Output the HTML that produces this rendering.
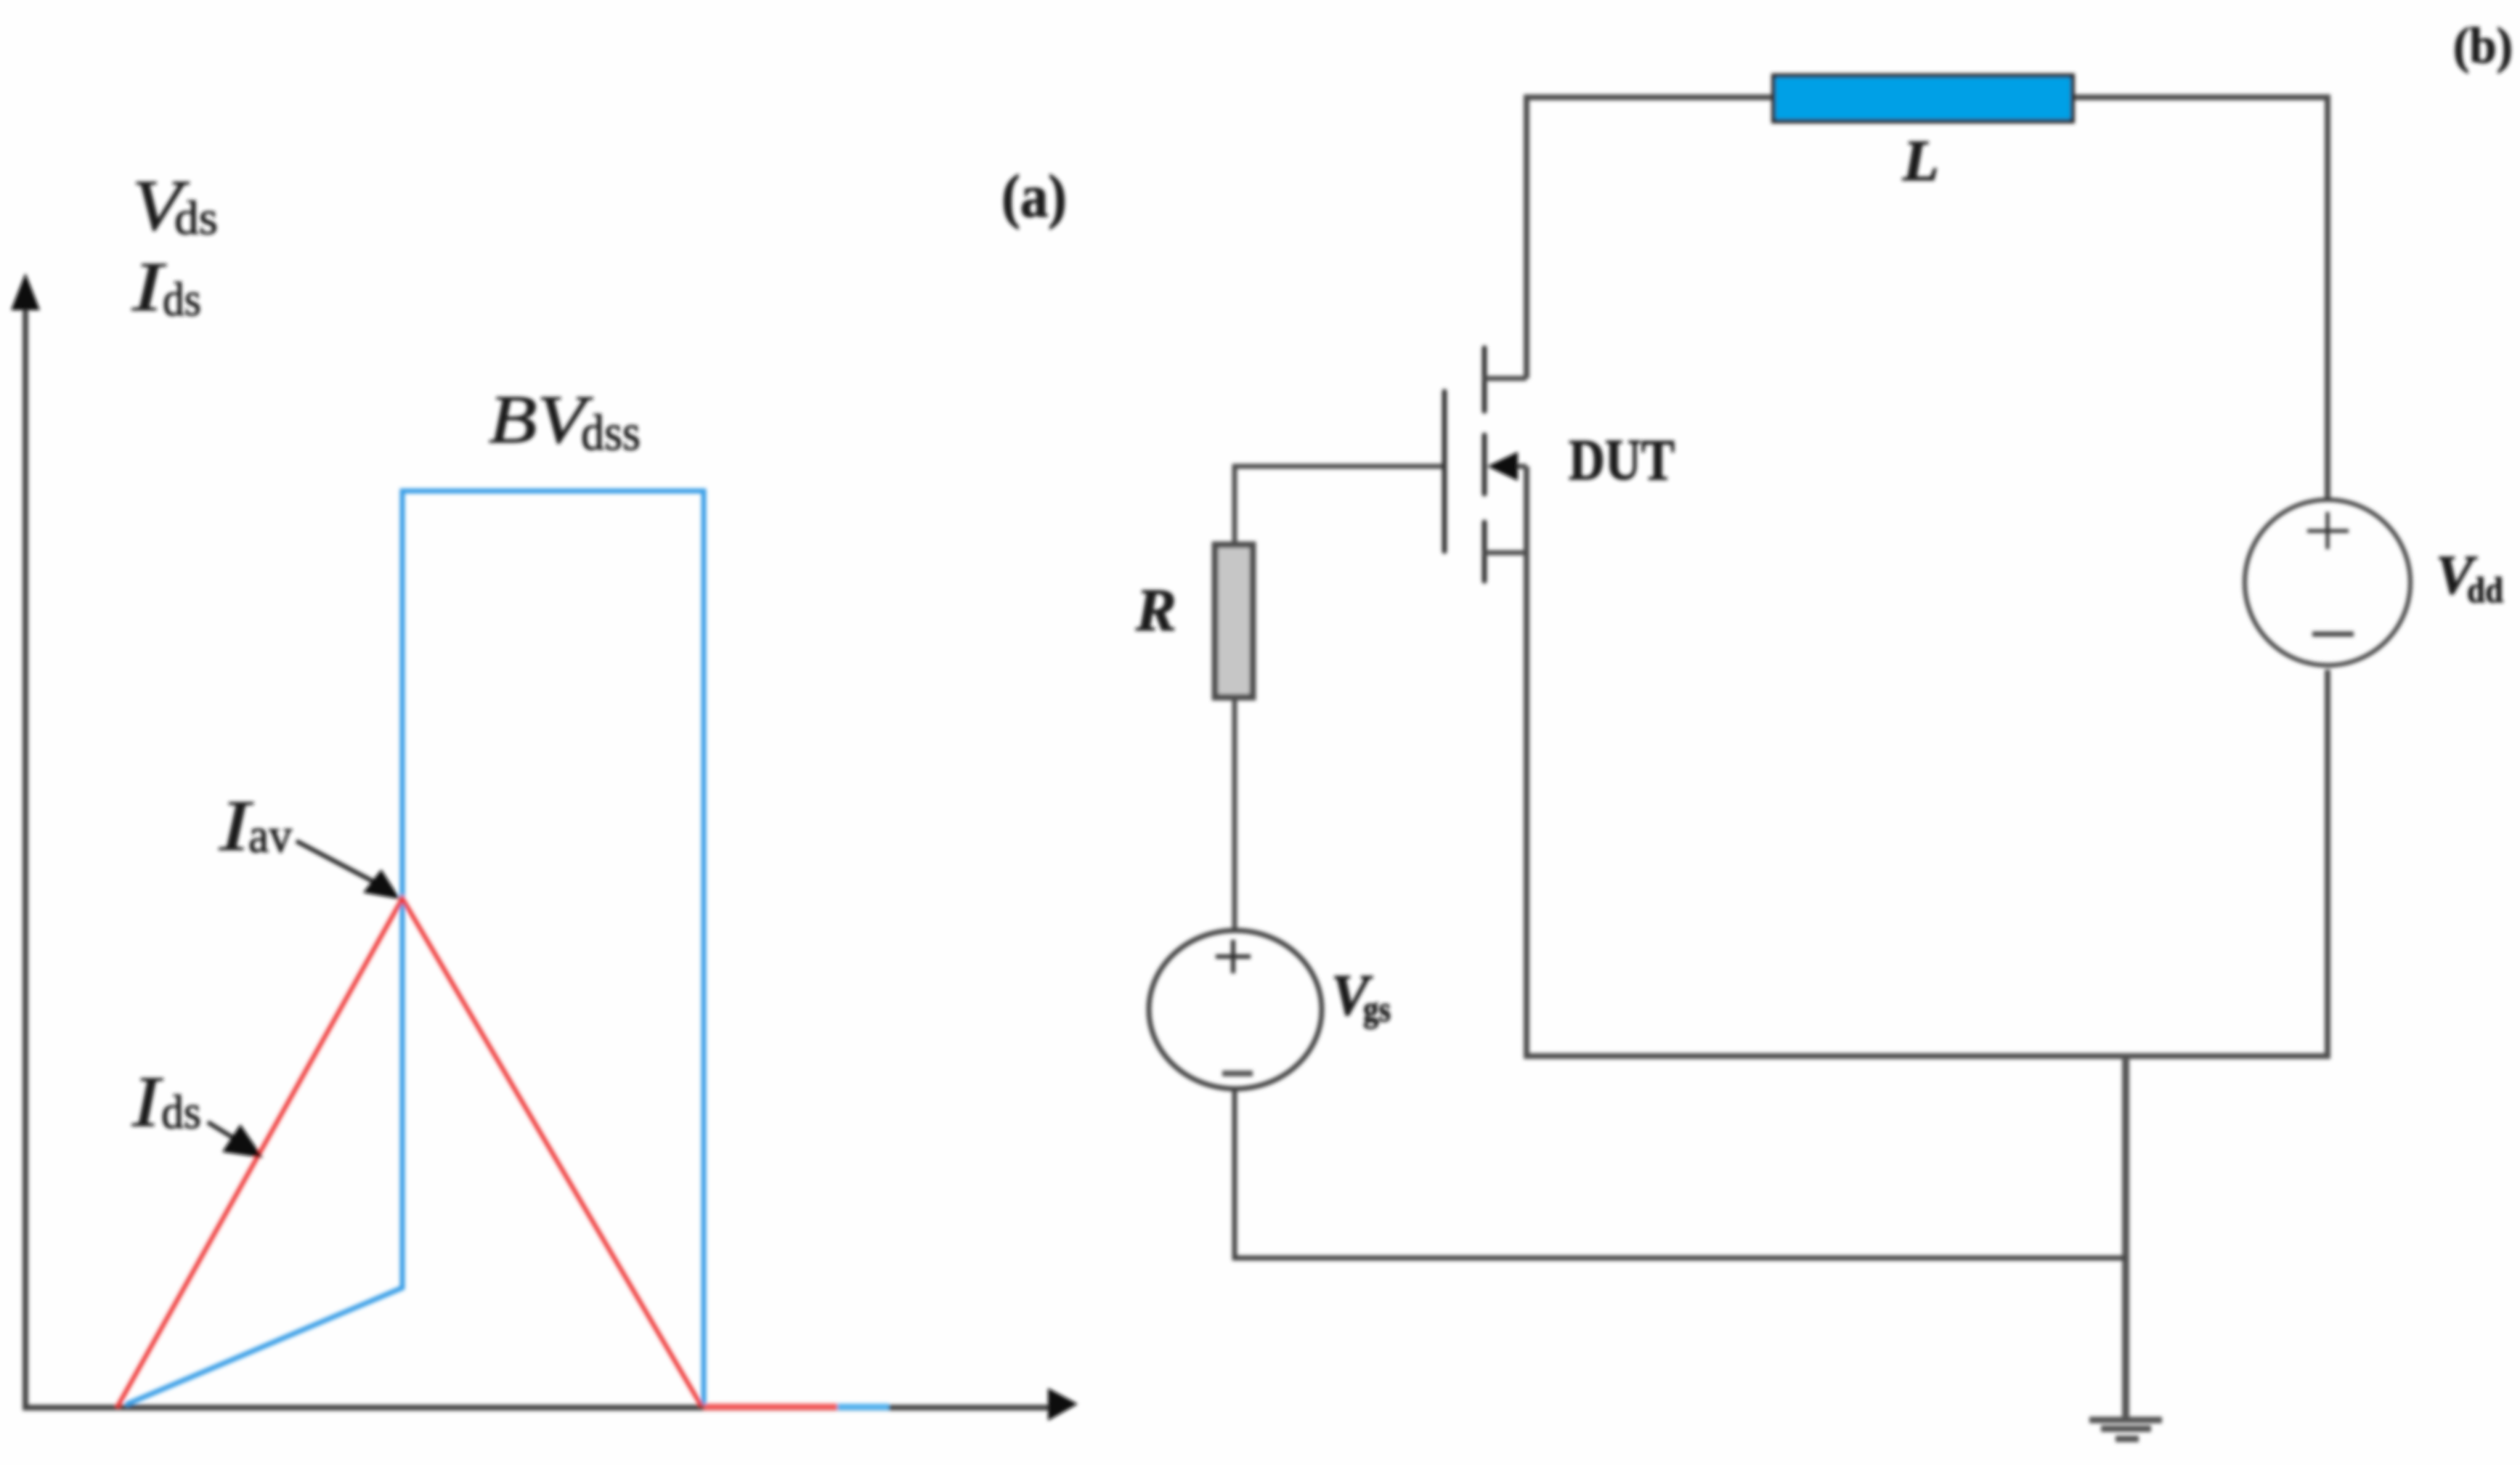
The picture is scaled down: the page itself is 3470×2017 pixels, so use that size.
<!DOCTYPE html>
<html>
<head>
<meta charset="utf-8">
<style>
html,body{margin:0;padding:0;background:#fefefe;}
svg{display:block;}
text{font-family:"Liberation Serif",serif;fill:#1c1c1c;stroke:#1c1c1c;stroke-width:1.2px;}
.i{font-style:italic;}
.b{font-weight:bold;}
</style>
</head>
<body>
<svg width="3470" height="2017" viewBox="0 0 3470 2017" xmlns="http://www.w3.org/2000/svg">
<defs><filter id="bl" x="-2%" y="-2%" width="104%" height="104%"><feGaussianBlur stdDeviation="2.6"/></filter></defs>
<rect width="3470" height="2017" fill="#fefefe"/>
<g filter="url(#bl)">
<!-- Panel a axes -->
<path d="M35 420V1938H1450" fill="none" stroke="#444" stroke-width="8"/>
<path d="M35 376L55 427H15Z" fill="#111"/>
<path d="M1484 1933L1443 1911V1956Z" fill="#111"/>
<!-- Axis coloured parts -->
<path d="M969 1937H1153" stroke="#f25a5a" stroke-width="9" fill="none"/>
<path d="M1153 1937H1224" stroke="#55b2ee" stroke-width="9" fill="none"/>
<!-- Blue waveform -->
<path d="M173 1934L554 1773V676H969V1934" fill="none" stroke="#3a9fe6" stroke-width="7" stroke-linejoin="miter"/>
<!-- Red waveform -->
<path d="M161 1938L554 1237L966 1936" fill="none" stroke="#ee3434" stroke-width="6"/>
<!-- Pointer arrows -->
<path d="M408 1158L530 1222" stroke="#222" stroke-width="6" fill="none"/>
<path d="M551 1238L525 1197L500 1229Z" fill="#111"/>
<path d="M286 1545L340 1578" stroke="#222" stroke-width="6" fill="none"/>
<path d="M362 1594L331 1548L306 1586Z" fill="#111"/>
<!-- Panel a labels -->
<text class="i" x="182" y="316" font-size="100" textLength="68" lengthAdjust="spacingAndGlyphs">V</text>
<text x="240" y="322" font-size="66" textLength="60" lengthAdjust="spacingAndGlyphs">ds</text>
<text class="i" x="182" y="427" font-size="96" textLength="42" lengthAdjust="spacingAndGlyphs">I</text>
<text x="224" y="434" font-size="66" textLength="53" lengthAdjust="spacingAndGlyphs">ds</text>
<text class="i" x="673" y="609" font-size="94" textLength="133" lengthAdjust="spacingAndGlyphs">BV</text>
<text x="800" y="619" font-size="70" textLength="82" lengthAdjust="spacingAndGlyphs">dss</text>
<text class="b" x="1379" y="298" font-size="84" textLength="90" lengthAdjust="spacingAndGlyphs">(a)</text>
<text class="i" x="302" y="1170" font-size="100" textLength="42" lengthAdjust="spacingAndGlyphs">I</text>
<text x="342" y="1173" font-size="68" textLength="60" lengthAdjust="spacingAndGlyphs">av</text>
<text class="i" x="182" y="1550" font-size="100" textLength="38" lengthAdjust="spacingAndGlyphs">I</text>
<text x="222" y="1553" font-size="66" textLength="55" lengthAdjust="spacingAndGlyphs">ds</text>
<!-- Circuit wires -->
<path d="M2102 521V134H2440M2856 134H3205V688M3205 922V1454H2102V642" fill="none" stroke="#4d4d4d" stroke-width="8"/>
<path d="M2927 1454V1955" fill="none" stroke="#555" stroke-width="10"/>
<path d="M1700 1502V1732H2927" fill="none" stroke="#444" stroke-width="7"/>
<path d="M1700 1278V964M1700 746V642H1989" fill="none" stroke="#4d4d4d" stroke-width="7"/>
<!-- MOSFET -->
<path d="M1989 539V759M2044 479V566M2044 599V680M2044 719V800" fill="none" stroke="#333" stroke-width="7" stroke-linecap="round"/>
<path d="M2044 521H2102M2044 761H2102M2080 642H2102" fill="none" stroke="#4d4d4d" stroke-width="7"/>
<path d="M2048 642L2090 622V662Z" fill="#111"/>
<!-- R -->
<rect x="1673" y="750" width="52" height="210" fill="#c6c6c6" stroke="#4d4d4d" stroke-width="9"/>
<!-- L -->
<rect x="2442" y="104" width="412" height="63" fill="#00a0e6" stroke="#2a2a2a" stroke-width="6"/>
<!-- Vgs -->
<ellipse cx="1701" cy="1390" rx="119" ry="109" fill="none" stroke="#444" stroke-width="7"/>
<path d="M1674 1317H1722M1698 1294V1340" stroke="#333" stroke-width="6" fill="none"/>
<path d="M1683 1478H1725" stroke="#555" stroke-width="8" fill="none"/>
<!-- Vdd -->
<ellipse cx="3205" cy="802" rx="114" ry="114" fill="none" stroke="#444" stroke-width="6"/>
<path d="M3177 731H3234M3205 705V756" stroke="#333" stroke-width="5" fill="none"/>
<path d="M3184 873H3241" stroke="#444" stroke-width="7" fill="none"/>
<!-- Ground -->
<path d="M2877 1955H2977M2893 1967H2962M2913 1981H2945" stroke="#555" stroke-width="9" fill="none"/>
<!-- Circuit labels -->
<text class="b" x="2160" y="660" font-size="80" textLength="146" lengthAdjust="spacingAndGlyphs">DUT</text>
<text class="i b" x="1564" y="868" font-size="84" textLength="56" lengthAdjust="spacingAndGlyphs">R</text>
<text class="i b" x="1833" y="1397" font-size="80" textLength="52" lengthAdjust="spacingAndGlyphs">V</text>
<text class="b" x="1877" y="1406" font-size="50" textLength="38" lengthAdjust="spacingAndGlyphs">gs</text>
<text class="i b" x="2620" y="248" font-size="80" textLength="50" lengthAdjust="spacingAndGlyphs">L</text>
<text class="i b" x="3354" y="817" font-size="76" textLength="52" lengthAdjust="spacingAndGlyphs">V</text>
<text class="b" x="3397" y="829" font-size="50" textLength="50" lengthAdjust="spacingAndGlyphs">dd</text>
<text class="b" x="3378" y="86" font-size="70" textLength="82" lengthAdjust="spacingAndGlyphs">(b)</text>
</g>
</svg>
</body>
</html>
